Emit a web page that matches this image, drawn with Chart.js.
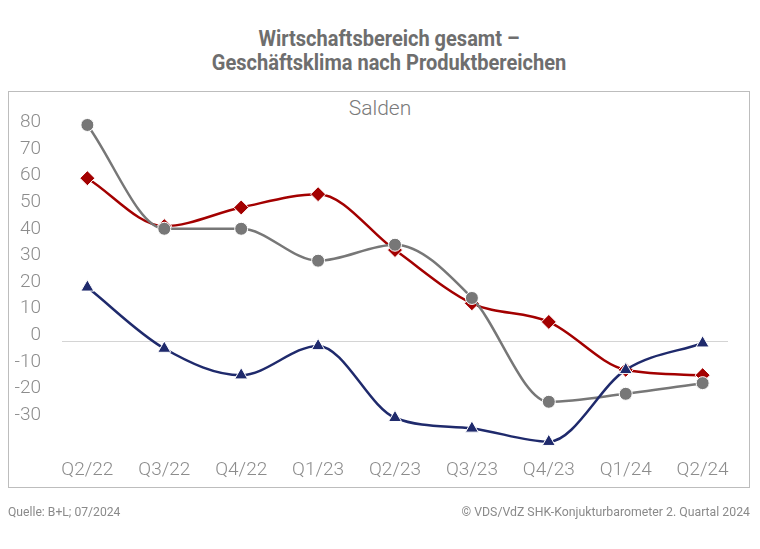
<!DOCTYPE html>
<html>
<head>
<meta charset="utf-8">
<script src="https://cdn.jsdelivr.net/npm/chart.js@4"></script>
<style>
  html, body { margin: 0; padding: 0; background: #fff; }
  body { width: 760px; height: 549px; position: relative; overflow: hidden; font-family: Roboto, sans-serif; }
  #chart { position: absolute; left: 0; top: 0; }
  .title { position: absolute; left: 0; width: 778px; text-align: center; color: #6e6e6e;
           font-weight: 700; font-size: 22px; white-space: nowrap; transform: scaleX(0.91); transform-origin: 389px 0; }
  #frame { position: absolute; left: 8px; top: 91px; width: 740px; height: 395px; border: 1.5px solid #bdbdbd; }
  #salden { position: absolute; left: 0; width: 760px; top: 96px; text-align: center; color: #7a7a7a;
            font-size: 21px; font-weight: 300; }
  .foot { position: absolute; top: 503px; color: #8a8a8a; font-size: 13.5px; white-space: nowrap; }
  #src { left: 8px; transform: scaleX(0.9); transform-origin: 0 0; }
  #copy { right: 10px; transform: scaleX(0.91); transform-origin: 100% 0; }
</style>
</head>
<body>
<div class="title" style="top:26px">Wirtschaftsbereich gesamt –</div>
<div class="title" style="top:50px">Geschäftsklima nach Produktbereichen</div>
<div id="frame"></div>
<div id="salden">Salden</div>
<canvas id="chart" width="760" height="549"></canvas>
<div class="foot" id="src">Quelle: B+L; 07/2024</div>
<div class="foot" id="copy">© VDS/VdZ SHK-Konjukturbarometer 2. Quartal 2024</div>
<script>
let quarters = ["Q2/22", "Q3/22", "Q4/22", "Q1/23", "Q2/23", "Q3/23", "Q4/23", "Q1/24", "Q2/24"];

let seriesRed  = [59, 41, 48, 53, 32, 12, 5, -13, -15];
let seriesGray = [79, 40, 40, 28, 34, 14, -25, -22, -18];
let seriesBlue = [18, -5, -15, -4, -31, -35, -40, -13, -3];

let yTicks = [80, 70, 60, 50, 40, 30, 20, 10, 0, -10, -20, -30];
let baseLine = -2.5;

function points(values) {
    return values.map((v, i) => ({x: i, y: v}));
}

function series(values, color, shape, size) {
    return {
        data: points(values),
        borderColor: color,
        backgroundColor: color,
        borderWidth: 2.5,
        cubicInterpolationMode: "monotone",
        pointStyle: shape,
        pointRadius: size,
        pointBorderColor: "#ffffff",
        pointBorderWidth: 1,
        clip: false
    };
}

let tickFont = {family: "Roboto", size: 19, weight: 300};

new Chart(document.getElementById("chart"), {
    type: "line",
    data: {
        datasets: [
            series(seriesBlue, "#1f2a6c", "triangle", 7.5),
            series(seriesGray, "#777777", "circle", 6.5),
            series(seriesRed, "#a30000", "rectRot", 7.5)
        ]
    },
    options: {
        responsive: false,
        animation: false,
        layout: {padding: {left: 0, right: 32, top: 109, bottom: 54}},
        plugins: {legend: {display: false}, tooltip: {enabled: false}},
        scales: {
            x: {
                type: "linear",
                min: -0.33,
                max: 8.33,
                afterBuildTicks: s => { s.ticks = quarters.map((q, i) => ({value: i})); },
                afterFit: s => { s.height = 40; },
                grid: {display: false, drawTicks: false},
                border: {display: false},
                ticks: {
                    autoSkip: false,
                    maxRotation: 0,
                    padding: 4,
                    color: "#8c8c8c",
                    font: tickFont,
                    callback: v => quarters[v]
                }
            },
            y: {
                min: -45,
                max: 85,
                afterBuildTicks: s => {
                    s.ticks = yTicks.concat([baseLine]).map(v => ({value: v}));
                },
                afterFit: s => { s.width = 62; },
                grid: {
                    drawTicks: false,
                    lineWidth: 1,
                    color: c => (c.tick && c.tick.value === baseLine) ? "#d4d4d4" : "rgba(0,0,0,0)"
                },
                border: {display: false},
                ticks: {
                    padding: 21,
                    color: "#8c8c8c",
                    font: tickFont,
                    callback: v => (v === baseLine ? "" : v)
                }
            }
        }
    }
});
</script>
</body>
</html>
